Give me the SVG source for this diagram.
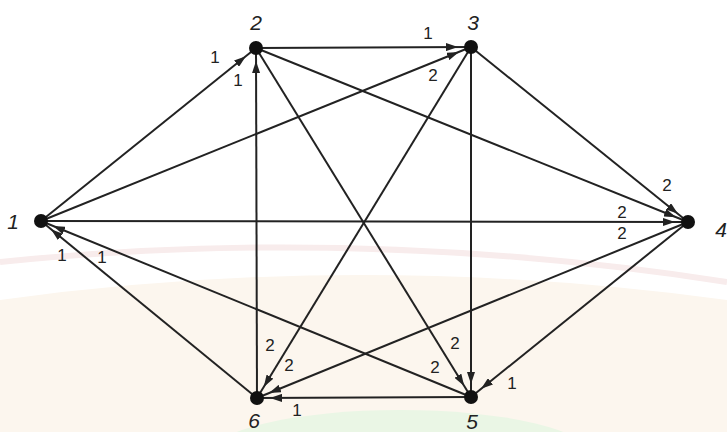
<svg xmlns="http://www.w3.org/2000/svg" width="727" height="432" viewBox="0 0 727 432">
<style>
.edge{stroke:#222;stroke-width:2;fill:none;marker-end:url(#arr)}
.dot{fill:#111}
.el{font-family:"Liberation Sans",Arial,sans-serif;font-size:17px;fill:#222;text-anchor:middle}
.nl{font-family:"Liberation Sans",Arial,sans-serif;font-size:21px;font-style:italic;fill:#222;text-anchor:middle}
</style>
<defs>
<marker id="arr" markerUnits="userSpaceOnUse" markerWidth="28" markerHeight="8" refX="25" refY="4" orient="auto">
<path d="M0,0 L12,4 L0,8 Z" fill="#222"/>
</marker>
</defs>
<rect width="727" height="432" fill="#ffffff"/>
<g id="background">
<path d="M0,300 Q360,250 727,300 L727,432 L0,432 Z" fill="#fcf6ee"/>
<path d="M0,262 Q360,225 727,282" stroke="#f8ecec" stroke-width="6" fill="none"/>
<ellipse cx="400" cy="455" rx="190" ry="45" fill="#eaf6e5"/>
</g>
<g id="connectors">
<line class="edge" x1="41" y1="221" x2="256" y2="48"/>
<line class="edge" x1="41" y1="221" x2="471" y2="47"/>
<line class="edge" x1="41" y1="221" x2="688" y2="222"/>
<line class="edge" x1="256" y1="48" x2="471" y2="47"/>
<line class="edge" x1="256" y1="48" x2="688" y2="222"/>
<line class="edge" x1="256" y1="48" x2="471" y2="397"/>
<line class="edge" x1="471" y1="47" x2="688" y2="222"/>
<line class="edge" x1="471" y1="47" x2="471" y2="397"/>
<line class="edge" x1="471" y1="47" x2="257" y2="398"/>
<line class="edge" x1="688" y1="222" x2="471" y2="397"/>
<line class="edge" x1="688" y1="222" x2="257" y2="398"/>
<line class="edge" x1="471" y1="397" x2="257" y2="398"/>
<line class="edge" x1="471" y1="397" x2="41" y2="221"/>
<line class="edge" x1="257" y1="398" x2="41" y2="221"/>
<line class="edge" x1="257" y1="398" x2="256" y2="48"/>
<text class="el" x="215" y="63">1</text>
<text class="el" x="238" y="86">1</text>
<text class="el" x="428" y="39">1</text>
<text class="el" x="433" y="81">2</text>
<text class="el" x="667" y="191">2</text>
<text class="el" x="622" y="218">2</text>
<text class="el" x="622" y="239">2</text>
<text class="el" x="62" y="261">1</text>
<text class="el" x="102" y="263">1</text>
<text class="el" x="270" y="351">2</text>
<text class="el" x="289" y="371">2</text>
<text class="el" x="297" y="416">1</text>
<text class="el" x="455" y="349">2</text>
<text class="el" x="435" y="373">2</text>
<text class="el" x="512" y="389">1</text>
</g>
<g id="node1"><circle class="dot" cx="41" cy="221" r="7"/><text class="nl" x="13" y="229">1</text></g>
<g id="node2"><circle class="dot" cx="256" cy="48" r="7"/><text class="nl" x="256" y="30">2</text></g>
<g id="node3"><circle class="dot" cx="471" cy="47" r="7"/><text class="nl" x="473" y="30">3</text></g>
<g id="node4"><circle class="dot" cx="688" cy="222" r="7"/><text class="nl" x="721" y="237">4</text></g>
<g id="node5"><circle class="dot" cx="471" cy="397" r="7" fill="#2a2a2a"/><text class="nl" x="472" y="429">5</text></g>
<g id="node6"><circle class="dot" cx="257" cy="398" r="7" fill="#2a2a2a"/><text class="nl" x="254" y="428">6</text></g>
</svg>
